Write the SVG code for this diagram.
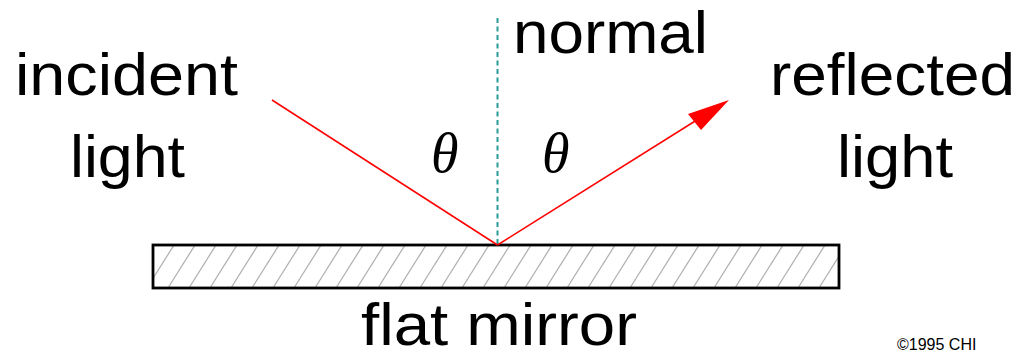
<svg xmlns="http://www.w3.org/2000/svg" width="1021" height="356" viewBox="0 0 1021 356">
  <style>
    .lbl { font-family: "Liberation Sans", Arial, sans-serif; font-size: 60px; fill: #000; }
    .theta { font-family: "Liberation Serif", "Times New Roman", serif; font-style: italic; font-size: 56px; fill: #000; }
    .ray { stroke: #ff0000; stroke-width: 1.5; fill: none; }
    .normal { stroke: #2a9a9a; stroke-width: 2; stroke-dasharray: 5 3.5; fill: none; }
    .copy { font-family: "Liberation Sans", Arial, sans-serif; font-size: 16px; fill: #000; }
  </style>
  <defs>
    <pattern id="hatch" patternUnits="userSpaceOnUse" x="153" y="245" width="21" height="43">
      <line x1="-27" y1="43" x2="0" y2="0" stroke="#b0b0b0" stroke-width="1.2"/>
      <line x1="-6" y1="43" x2="21" y2="0" stroke="#b0b0b0" stroke-width="1.2"/>
      <line x1="15" y1="43" x2="42" y2="0" stroke="#b0b0b0" stroke-width="1.2"/>
    </pattern>
  </defs>
  <rect width="1021" height="356" fill="#fff"/>

  <g id="mirror">
    <rect x="153" y="245" width="686" height="43" fill="url(#hatch)" stroke="#000" stroke-width="2.8"/>
    <text class="lbl" x="361" y="345" font-size="58" textLength="276" lengthAdjust="spacingAndGlyphs">flat mirror</text>
  </g>

  <g id="connectors">
    <line class="normal" x1="497.5" y1="18" x2="497.5" y2="245"/>
    <line class="ray" x1="272" y1="100" x2="497.5" y2="245"/>
    <line class="ray" x1="497.5" y1="245" x2="700" y2="118"/>
    <polygon points="729,100 688,114 701,130" fill="#ff0000"/>
  </g>

  <g id="incident">
    <text class="lbl" x="15" y="95" textLength="223" lengthAdjust="spacingAndGlyphs">incident</text>
    <text class="lbl" x="70" y="177" textLength="115" lengthAdjust="spacingAndGlyphs">light</text>
  </g>
  <g id="reflected">
    <text class="lbl" x="770" y="95" textLength="245" lengthAdjust="spacingAndGlyphs">reflected</text>
    <text class="lbl" x="837" y="177" textLength="116" lengthAdjust="spacingAndGlyphs">light</text>
  </g>
  <g id="normal-label">
    <text class="lbl" x="513" y="53" textLength="195" lengthAdjust="spacingAndGlyphs">normal</text>
  </g>
  <g id="angles">
    <text class="theta" x="431" y="172">θ</text>
    <text class="theta" x="542" y="172">θ</text>
  </g>
  <text class="copy" x="897" y="350">©1995 CHI</text>
</svg>
